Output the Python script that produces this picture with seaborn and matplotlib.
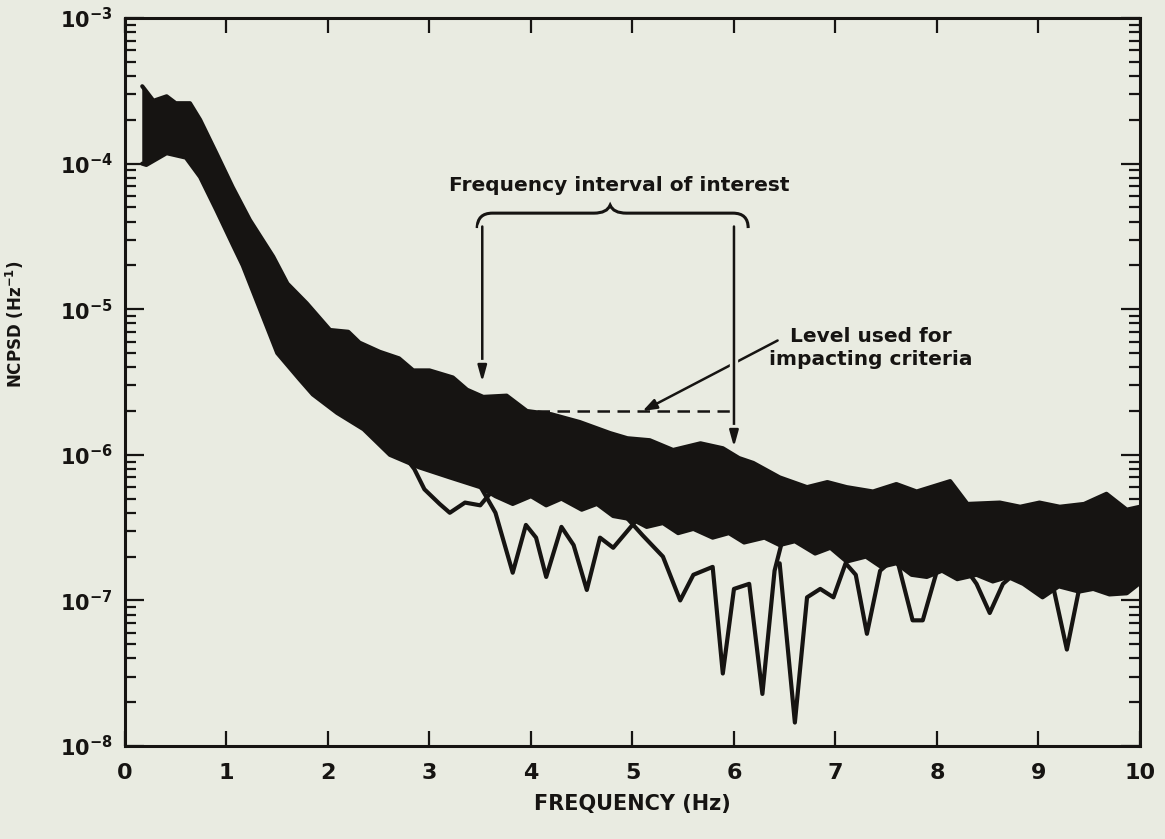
import numpy as np
import pandas as pd
import matplotlib
matplotlib.use("Agg")
import matplotlib.pyplot as plt
import seaborn as sns
from matplotlib.ticker import LogLocator, FuncFormatter, NullFormatter, FixedLocator
from matplotlib.path import Path
from matplotlib.patches import PathPatch
import matplotlib.transforms as mtransforms
import matplotlib.patheffects as pe

# ---------------- data ----------------
# upper envelope of the dense bundle of NCPSD curves
upper_freq = [0.17, 0.28, 0.41, 0.5, 0.64, 0.74, 0.9, 1.06, 1.23, 1.46, 1.6, 1.79,
              2.02, 2.2, 2.31, 2.51, 2.7, 2.84, 3.0, 3.23, 3.37, 3.53, 3.76, 3.96,
              4.2, 4.48, 4.78, 4.95, 5.17, 5.4, 5.67, 5.89, 6.05, 6.19, 6.45, 6.72,
              6.92, 7.11, 7.37, 7.6, 7.8, 8.13, 8.3, 8.62, 8.82, 9.01, 9.21, 9.45,
              9.67, 9.87, 10.0]
upper_val = [3.4e-4, 2.7e-4, 2.9e-4, 2.6e-4, 2.6e-4, 2.0e-4, 1.18e-4, 6.9e-5, 4.1e-5,
             2.3e-5, 1.5e-5, 1.1e-5, 7.2e-6, 7.0e-6, 5.9e-6, 5.1e-6, 4.6e-6, 3.8e-6,
             3.8e-6, 3.4e-6, 2.8e-6, 2.5e-6, 2.55e-6, 2.0e-6, 1.9e-6, 1.68e-6, 1.41e-6,
             1.3e-6, 1.26e-6, 1.08e-6, 1.2e-6, 1.11e-6, 9.5e-7, 8.8e-7, 7.0e-7, 6.0e-7,
             6.5e-7, 6.0e-7, 5.6e-7, 6.3e-7, 5.6e-7, 6.6e-7, 4.6e-7, 4.7e-7, 4.4e-7,
             4.7e-7, 4.4e-7, 4.6e-7, 5.4e-7, 4.2e-7, 4.4e-7]

# lower envelope of the dense bundle
lower_freq = [0.17, 0.21, 0.41, 0.6, 0.74, 0.9, 1.07, 1.16, 1.33, 1.5, 1.72, 1.85,
              2.09, 2.35, 2.61, 2.9, 3.2, 3.5, 3.65, 3.82, 4.0, 4.15, 4.3, 4.5, 4.65,
              4.81, 5.0, 5.14, 5.3, 5.45, 5.6, 5.79, 5.95, 6.1, 6.3, 6.45, 6.6, 6.8,
              6.95, 7.11, 7.3, 7.45, 7.6, 7.75, 7.9, 8.05, 8.2, 8.39, 8.55, 8.7, 8.85,
              9.04, 9.2, 9.4, 9.54, 9.7, 9.87, 10.0]
lower_val = [1.0e-4, 9.8e-5, 1.18e-4, 1.1e-4, 8.1e-5, 4.8e-5, 2.7e-5, 2.0e-5, 1.0e-5,
             5.0e-6, 3.3e-6, 2.6e-6, 1.94e-6, 1.5e-6, 1.0e-6, 8.2e-7, 7.0e-7, 6.0e-7,
             5.2e-7, 4.6e-7, 5.2e-7, 4.5e-7, 5.0e-7, 4.2e-7, 4.6e-7, 3.8e-7, 3.6e-7,
             3.2e-7, 3.4e-7, 2.9e-7, 3.1e-7, 2.7e-7, 2.9e-7, 2.5e-7, 2.7e-7, 2.4e-7,
             2.55e-7, 2.1e-7, 2.3e-7, 1.85e-7, 2.0e-7, 1.7e-7, 1.8e-7, 1.5e-7, 1.45e-7,
             1.6e-7, 1.4e-7, 1.5e-7, 1.35e-7, 1.45e-7, 1.3e-7, 1.05e-7, 1.25e-7,
             1.15e-7, 1.2e-7, 1.1e-7, 1.12e-7, 1.32e-7]

# individual curves that drop out of the bundle
dip1_freq = [2.7, 2.85, 2.95, 3.1, 3.2, 3.35, 3.5, 3.65]
dip1_val = [1.1e-6, 8.0e-7, 5.8e-7, 4.6e-7, 4.0e-7, 4.7e-7, 4.5e-7, 6.0e-7]

dip2_freq = [3.45, 3.65, 3.82, 3.95, 4.05, 4.15, 4.3, 4.42, 4.55, 4.68, 4.81, 4.95, 5.1]
dip2_val = [7.0e-7, 4.0e-7, 1.55e-7, 3.3e-7, 2.7e-7, 1.45e-7, 3.2e-7, 2.4e-7,
            1.18e-7, 2.7e-7, 2.3e-7, 3.0e-7, 4.0e-7]

dip3_freq = [4.9, 5.1, 5.3, 5.47, 5.6, 5.79, 5.89, 6.0, 6.15, 6.28, 6.4, 6.5]
dip3_val = [4.0e-7, 2.8e-7, 2.0e-7, 1.0e-7, 1.5e-7, 1.7e-7, 3.15e-8, 1.2e-7, 1.3e-7,
            2.28e-8, 1.6e-7, 3.0e-7]

dip4_freq = [6.45, 6.6, 6.72, 6.85, 6.98, 7.1, 7.2, 7.31, 7.44, 7.6, 7.76, 7.86, 8.0, 8.2]
dip4_val = [1.8e-7, 1.45e-8, 1.05e-7, 1.2e-7, 1.05e-7, 1.8e-7, 1.5e-7, 5.9e-8, 1.6e-7,
            2.0e-7, 7.3e-8, 7.3e-8, 1.6e-7, 2.0e-7]

dip5_freq = [8.2, 8.39, 8.52, 8.65, 8.8, 9.0, 9.15, 9.28, 9.42, 9.6]
dip5_val = [2.0e-7, 1.3e-7, 8.2e-8, 1.3e-7, 1.6e-7, 1.5e-7, 1.2e-7, 4.6e-8, 1.4e-7, 1.7e-7]

# annotation values
interval_lo, interval_hi = 3.5, 6.0
criteria_level = 2.0e-6
criteria_start = 4.06

x_ticks = [0, 1, 2, 3, 4, 5, 6, 7, 8, 9, 10]

# ---------------- style ----------------
BG = "#e9ebe1"
INK = "#161412"
sns.set_theme(style="ticks")
plt.rcParams["font.family"] = ["DejaVu Sans"]
plt.rcParams["mathtext.default"] = "bf"
plt.rcParams["font.weight"] = "bold"

fig = plt.figure(figsize=(11.65, 8.39), dpi=100, facecolor=BG)
ax = fig.add_axes([0.1073, 0.1108, 0.8712, 0.8677])
ax.set_facecolor(BG)

# dense bundle
poly_f = np.concatenate([upper_freq, lower_freq[::-1]])
poly_v = np.concatenate([upper_val, lower_val[::-1]])
ax.fill(poly_f, poly_v, color=INK, lw=0)

lines = {"upper": (upper_freq, upper_val), "lower": (lower_freq, lower_val),
         "d1": (dip1_freq, dip1_val), "d2": (dip2_freq, dip2_val),
         "d3": (dip3_freq, dip3_val), "d4": (dip4_freq, dip4_val),
         "d5": (dip5_freq, dip5_val)}
rows = []
for name, (f, v) in lines.items():
    for i, (fi, vi) in enumerate(zip(f, v)):
        rows.append({"curve": name, "order": i, "freq": fi, "ncpsd": vi})
df = pd.DataFrame(rows)
sns.lineplot(data=df, x="freq", y="ncpsd", units="curve", estimator=None, sort=False,
             color=INK, lw=3.0, ax=ax, solid_joinstyle="round", solid_capstyle="round")

ax.set_yscale("log")
ax.set_xlim(0, 10)
ax.set_ylim(1e-8, 1e-3)

# ticks
ax.xaxis.set_major_locator(FixedLocator(x_ticks))
ax.set_xticklabels([str(t) for t in x_ticks])
ax.yaxis.set_major_locator(LogLocator(base=10, numticks=10))
ax.yaxis.set_minor_locator(LogLocator(base=10, subs=range(2, 10), numticks=50))
ax.yaxis.set_major_formatter(FuncFormatter(lambda v, p: r"$10^{%d}$" % int(round(np.log10(v)))))
ax.yaxis.set_minor_formatter(NullFormatter())
ax.tick_params(axis="x", which="major", direction="in", top=True, bottom=True,
               length=11, width=1.6, color=INK, labelsize=16, pad=12, labelcolor=INK)
ax.tick_params(axis="y", which="major", direction="in", left=True, right=True,
               length=14, width=1.6, color=INK, labelsize=15, pad=9, labelcolor=INK)
ax.tick_params(axis="y", which="minor", direction="in", left=True, right=True,
               length=8, width=1.6, color=INK)
for s in ax.spines.values():
    s.set_linewidth(2.2)
    s.set_color(INK)

ax.set_xlabel("FREQUENCY (Hz)", fontsize=15, fontweight="bold", color=INK, labelpad=8)
ax.set_ylabel(r"NCPSD (Hz$^{-1}$)", fontsize=12, fontweight="bold", color=INK)
ax.yaxis.set_label_coords(-0.098, 0.58)

# ---------------- annotations ----------------
trans = mtransforms.blended_transform_factory(ax.transData, ax.transAxes)
ax.text(4.87, 0.77, "Frequency interval of interest", transform=trans, ha="center",
        va="center", fontsize=14.5, fontweight="bold", color=INK)
yb, yt, ye = 0.732, 0.743, 0.7115
verts = [(3.47, ye), (3.47, yb), (3.62, yb), (4.62, yb), (4.75, yb), (4.78, yt),
         (4.81, yb), (4.94, yb), (5.99, yb), (6.14, yb), (6.14, ye)]
codes = [Path.MOVETO, Path.CURVE3, Path.CURVE3, Path.LINETO, Path.CURVE3, Path.CURVE3,
         Path.CURVE3, Path.CURVE3, Path.LINETO, Path.CURVE3, Path.CURVE3]
ax.add_patch(PathPatch(Path(verts, codes), transform=trans, fill=False, lw=2.2,
                       edgecolor=INK))

# dashed criteria level
ax.plot([criteria_start, interval_hi], [criteria_level, criteria_level], color=INK,
        lw=1.8, ls=(0, (5, 3)))

# slanted arrow to the dashed level
ax.annotate("", xy=(5.1, criteria_level), xytext=(6.43, 6.1e-6),
            arrowprops=dict(arrowstyle="-|>,head_length=0.7,head_width=0.25",
                            color=INK, lw=1.8, shrinkA=0, shrinkB=0))
ax.text(7.35, 5.4e-6, "Level used for\nimpacting criteria", ha="center", va="center",
        fontsize=14.5, fontweight="bold", color=INK, linespacing=1.25)

# vertical arrows bounding the interval
for xv, ytip in [(3.52, 3.16e-6), (interval_hi, 1.13e-6)]:
    ax.annotate("", xy=(xv, ytip), xytext=(xv, 3.7e-5),
                arrowprops=dict(arrowstyle="-|>,head_length=0.8,head_width=0.22",
                                color=INK, lw=1.8, shrinkA=0, shrinkB=0,
                                path_effects=[pe.Stroke(linewidth=6, foreground=BG),
                                              pe.Normal()]))

fig.savefig("out.png", dpi=100, facecolor=BG)
